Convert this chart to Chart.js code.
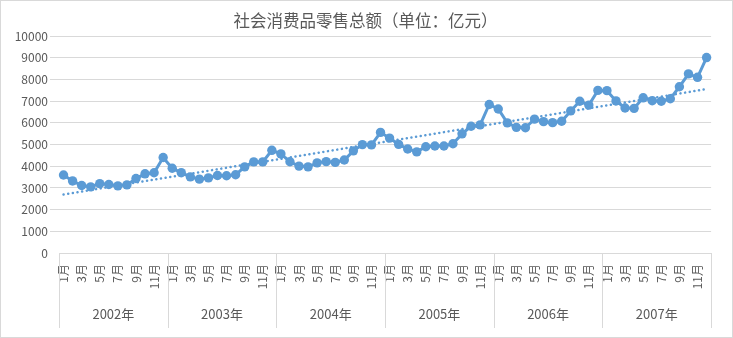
<!DOCTYPE html>
<html>
<head>
<meta charset="utf-8">
<script src="https://cdn.jsdelivr.net/npm/chart.js@4/dist/chart.umd.min.js"></script>
<style>
  html, body { margin: 0; padding: 0; background: #fff; }
  #frame { width: 731px; height: 336px; border: 1px solid #d9d9d9; }
  canvas { display: block; }
</style>
</head>
<body>
<div id="frame"><canvas id="c" width="731" height="336"></canvas></div>
<script>
// Monthly retail sales of consumer goods, 100 million yuan
const years = ['2002年', '2003年', '2004年', '2005年', '2006年', '2007年'];
const months = ['1月', '2月', '3月', '4月', '5月', '6月', '7月', '8月', '9月', '10月', '11月', '12月'];

const sales2002 = [3596, 3324, 3115, 3052, 3202, 3158, 3097, 3143, 3434, 3653, 3702, 4404];
const sales2003 = [3908, 3705, 3513, 3406, 3463, 3576, 3562, 3610, 3971, 4204, 4203, 4736];
const sales2004 = [4569, 4208, 4009, 3974, 4158, 4217, 4178, 4288, 4712, 4999, 4987, 5563];
const sales2005 = [5300, 5012, 4799, 4663, 4899, 4935, 4934, 5041, 5495, 5847, 5909, 6850];
const sales2006 = [6642, 6002, 5796, 5775, 6176, 6058, 6012, 6077, 6554, 6998, 6821, 7500];
const sales2007 = [7488, 7014, 6686, 6673, 7158, 7026, 6998, 7117, 7668, 8263, 8104, 9015];

// Linear trend line: value at the first and the last month
const trendEnds = [2700, 7560];

const yMin = 0, yMax = 10000, yStep = 1000;

const categories = years.flatMap(() => months);
const sales = [].concat(sales2002, sales2003, sales2004, sales2005, sales2006, sales2007);
const trend = sales.map((_, i) => i === 0 ? trendEnds[0] : (i === sales.length - 1 ? trendEnds[1] : null));

const GRID = '#d9d9d9';
const TEXT = '#595959';
const BLUE = '#5B9BD5';

Chart.defaults.font.family = "'Noto Sans CJK SC', 'Microsoft YaHei', sans-serif";
Chart.defaults.color = TEXT;

// Vertical dividers between the years of the two-level category axis
const yearDividers = {
  id: 'yearDividers',
  afterDraw(chart) {
    const xs = chart.scales.x, ys = chart.scales.year, ctx = chart.ctx;
    ctx.save();
    ctx.strokeStyle = GRID;
    ctx.lineWidth = 1;
    for (let i = 0; i <= years.length; i++) {
      const px = Math.round(xs.getPixelForValue(i * months.length - 0.5)) + 0.5;
      ctx.beginPath();
      ctx.moveTo(px, chart.chartArea.bottom);
      ctx.lineTo(px, ys.bottom);
      ctx.stroke();
    }
    ctx.restore();
  }
};

new Chart(document.getElementById('c'), {
  type: 'line',
  data: {
    labels: categories,
    datasets: [
      {
        label: '线性趋势',
        data: trend,
        borderColor: BLUE,
        borderWidth: 2.5,
        borderDash: [0.1, 4.6],
        borderCapStyle: 'round',
        pointRadius: 0,
        spanGaps: true,
        order: 2
      },
      {
        label: '社会消费品零售总额',
        data: sales,
        borderColor: BLUE,
        backgroundColor: BLUE,
        borderWidth: 3,
        pointRadius: 4.7,
        pointBorderWidth: 0,
        pointBackgroundColor: BLUE,
        tension: 0,
        order: 1
      }
    ]
  },
  options: {
    responsive: false,
    animation: false,
    layout: { padding: { left: 0, right: 2, top: 0, bottom: 9 } },
    plugins: {
      legend: { display: false },
      tooltip: { enabled: false },
      title: {
        display: true,
        text: '社会消费品零售总额（单位：亿元）',
        color: TEXT,
        font: { size: 16.5, weight: 'normal' },
        padding: { top: 10, bottom: 5.4 }
      }
    },
    scales: {
      x: {
        type: 'category',
        position: 'bottom',
        weight: 0,
        offset: true,
        grid: { display: false, drawTicks: false },
        border: { display: false },
        ticks: {
          autoSkip: false,
          minRotation: 90,
          maxRotation: 90,
          padding: 11,
          color: TEXT,
          font: { size: 12 },
          callback: (v, i) => (i % 2 === 0 ? categories[i] : '')
        },
        afterFit: s => { s.height = 45; }
      },
      year: {
        type: 'category',
        labels: years,
        position: 'bottom',
        weight: 1,
        offset: true,
        grid: { display: false, drawTicks: false },
        border: { display: false },
        ticks: { autoSkip: false, maxRotation: 0, padding: 8, color: TEXT, font: { size: 13 } },
        afterFit: s => { s.height = 30; }
      },
      y: {
        min: yMin,
        max: yMax,
        ticks: {
          stepSize: yStep,
          padding: 2,
          color: TEXT,
          font: { size: 12 },
          callback: v => String(v)
        },
        grid: {
          color: GRID,
          tickLength: 9,
          tickColor: ctx => (ctx.tick && ctx.tick.value === 0 ? 'rgba(0,0,0,0)' : GRID)
        },
        border: { display: false },
        afterFit: s => { s.width = 58; }
      }
    }
  },
  plugins: [yearDividers]
});
</script>
</body>
</html>
